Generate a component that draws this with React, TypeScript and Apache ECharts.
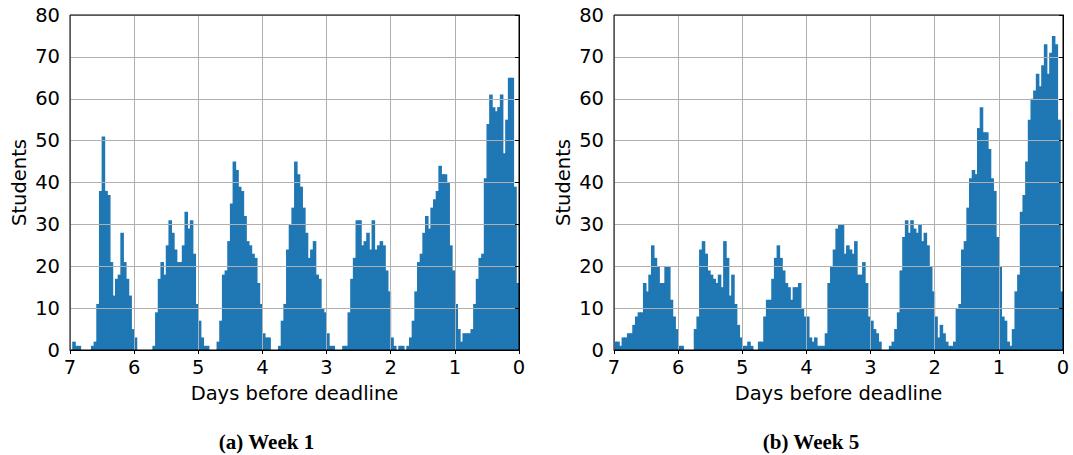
import React, { useEffect, useRef } from "react";
import * as echarts from "echarts";

// Hourly histogram counts, listed from 7 days before the deadline down to 0.
const week1Counts = [
  0, 2, 1, 1, 0, 0, 0, 0, 1, 2, 11, 38, 51, 38, 37, 21, 13, 17, 18, 28, 21, 17, 13, 5,
  3, 0, 0, 0, 0, 0, 0, 1, 9, 17, 21, 18, 25, 31, 28, 24, 21, 21, 25, 33, 29, 31, 23, 11,
  7, 3, 1, 1, 0, 0, 0, 2, 7, 18, 19, 26, 35, 45, 43, 39, 38, 32, 26, 25, 23, 22, 16, 11,
  4, 3, 3, 0, 0, 0, 1, 7, 11, 24, 30, 34, 45, 42, 39, 34, 28, 22, 24, 26, 18, 17, 10, 9,
  4, 1, 1, 0, 0, 0, 1, 1, 9, 17, 22, 31, 31, 25, 26, 28, 24, 31, 24, 25, 26, 25, 19, 14,
  3, 1, 0, 1, 1, 0, 1, 3, 7, 14, 21, 23, 28, 32, 29, 34, 36, 38, 44, 42, 42, 40, 25, 19,
  11, 5, 2, 4, 4, 4, 5, 11, 17, 22, 23, 41, 54, 61, 58, 57, 58, 61, 47, 55, 65, 65, 39, 16,
];

const week5Counts = [
  2, 2, 1, 3, 3, 4, 4, 6, 8, 9, 9, 16, 14, 18, 25, 22, 20, 16, 16, 20, 20, 12, 8, 5,
  1, 1, 0, 0, 0, 0, 5, 8, 24, 26, 23, 19, 18, 17, 16, 18, 15, 26, 22, 13, 18, 11, 6, 3,
  1, 1, 2, 1, 0, 0, 2, 2, 8, 12, 12, 17, 22, 25, 22, 19, 16, 15, 12, 15, 15, 16, 10, 8,
  8, 3, 2, 3, 1, 1, 1, 4, 16, 20, 24, 29, 30, 30, 23, 25, 24, 23, 26, 18, 18, 21, 16, 8,
  7, 5, 4, 2, 0, 0, 0, 1, 2, 5, 9, 19, 27, 31, 28, 31, 29, 28, 30, 26, 28, 25, 20, 14,
  8, 3, 6, 4, 2, 1, 1, 2, 10, 11, 24, 26, 34, 41, 43, 42, 53, 58, 52, 52, 48, 41, 38, 27,
  20, 8, 7, 2, 1, 5, 14, 18, 33, 37, 45, 55, 60, 62, 66, 63, 68, 73, 66, 71, 75, 73, 55, 14,
];

const captions = ["(a) Week 1", "(b) Week 5"];
const xTitle = "Days before deadline";
const yTitle = "Students";
const DAYS = 7;
const BINS_PER_DAY = 24;
const Y_MAX = 80;
const Y_STEP = 10;

const BAR = "#1f77b4";
const GRIDLINE = "#b0b0b0";
const SANS = "DejaVu Sans";

function toBins(counts: number[]) {
  return counts.map((c, i) => [
    DAYS - i / BINS_PER_DAY,
    DAYS - (i + 1) / BINS_PER_DAY,
    c,
  ]);
}

const renderBin = (_params: any, api: any) => {
  const v = api.value(2);
  if (!v) return null;
  const p0 = api.coord([api.value(0), v]);
  const p1 = api.coord([api.value(1), 0]);
  const x = Math.min(p0[0], p1[0]);
  const w = Math.abs(p1[0] - p0[0]);
  // slight overlap so adjacent bins merge without anti-aliasing seams
  return {
    type: "rect",
    shape: { x: x - 0.45, y: p0[1], width: w + 0.9, height: p1[1] - p0[1] },
    style: { fill: BAR },
  };
};

export default function App() {
  const ref = useRef<HTMLDivElement>(null);

  useEffect(() => {
    if (!ref.current) return;
    const chart = echarts.init(ref.current, undefined, { renderer: "svg" });

    const grids = [
      { left: 70, top: 15, width: 449, height: 335 },
      { left: 614, top: 15, width: 449, height: 335 },
    ];

    const xAxes = grids.map((_, i) => ({
      type: "value",
      gridIndex: i,
      min: 0,
      max: DAYS,
      interval: 1,
      inverse: true,
      z: 10,
      axisLine: { show: true, onZero: false, lineStyle: { color: "#000", width: 1 } },
      axisTick: { show: true, length: 4, lineStyle: { color: "#000", width: 1 } },
      axisLabel: { color: "#000", fontSize: 19.5, fontFamily: SANS, margin: 7 },
      splitLine: { show: true, lineStyle: { color: GRIDLINE, width: 1 } },
    }));

    const yAxes = grids.map((_, i) => ({
      type: "value",
      gridIndex: i,
      min: 0,
      max: Y_MAX,
      interval: Y_STEP,
      z: 10,
      axisLine: { show: true, lineStyle: { color: "#000", width: 1 } },
      axisTick: { show: true, length: 4, lineStyle: { color: "#000", width: 1 } },
      axisLabel: { color: "#000", fontSize: 19.5, fontFamily: SANS, margin: 10 },
      splitLine: { show: true, lineStyle: { color: GRIDLINE, width: 1 } },
    }));

    const series = [week1Counts, week5Counts].map((counts, i) => ({
      type: "custom",
      xAxisIndex: i,
      yAxisIndex: i,
      data: toBins(counts),
      encode: { x: [0, 1], y: 2 },
      renderItem: renderBin,
      clip: true,
      z: 2,
    }));

    const graphic: any[] = [];
    grids.forEach((g, i) => {
      const cx = g.left + g.width / 2;
      graphic.push({
        type: "text",
        x: cx,
        y: 393,
        style: {
          text: xTitle,
          fontSize: 19.5,
          fontFamily: SANS,
          fill: "#000",
          align: "center",
          verticalAlign: "middle",
        },
      });
      graphic.push({
        type: "text",
        x: g.left - 51,
        y: g.top + g.height / 2,
        rotation: Math.PI / 2,
        style: {
          text: yTitle,
          fontSize: 19.5,
          fontFamily: SANS,
          fill: "#000",
          align: "center",
          verticalAlign: "middle",
        },
      });
      graphic.push({
        type: "text",
        x: i === 0 ? 266.5 : 811,
        y: 442,
        style: {
          text: captions[i],
          fontSize: 21,
          fontWeight: "bold",
          fontFamily: "Liberation Serif",
          fill: "#000",
          align: "center",
          verticalAlign: "middle",
        },
      });
    });

    chart.setOption({
      animation: false,
      backgroundColor: "#fff",
      grid: grids.map((g) => ({
        ...g,
        show: true,
        borderColor: "#000",
        borderWidth: 1,
        backgroundColor: "transparent",
        z: 20,
      })),
      xAxis: xAxes,
      yAxis: yAxes,
      series,
      graphic,
    });

    return () => chart.dispose();
  }, []);

  return (
    <div
      ref={ref}
      style={{ position: "fixed", left: 0, top: 0, width: 1073, height: 455 }}
    />
  );
}
